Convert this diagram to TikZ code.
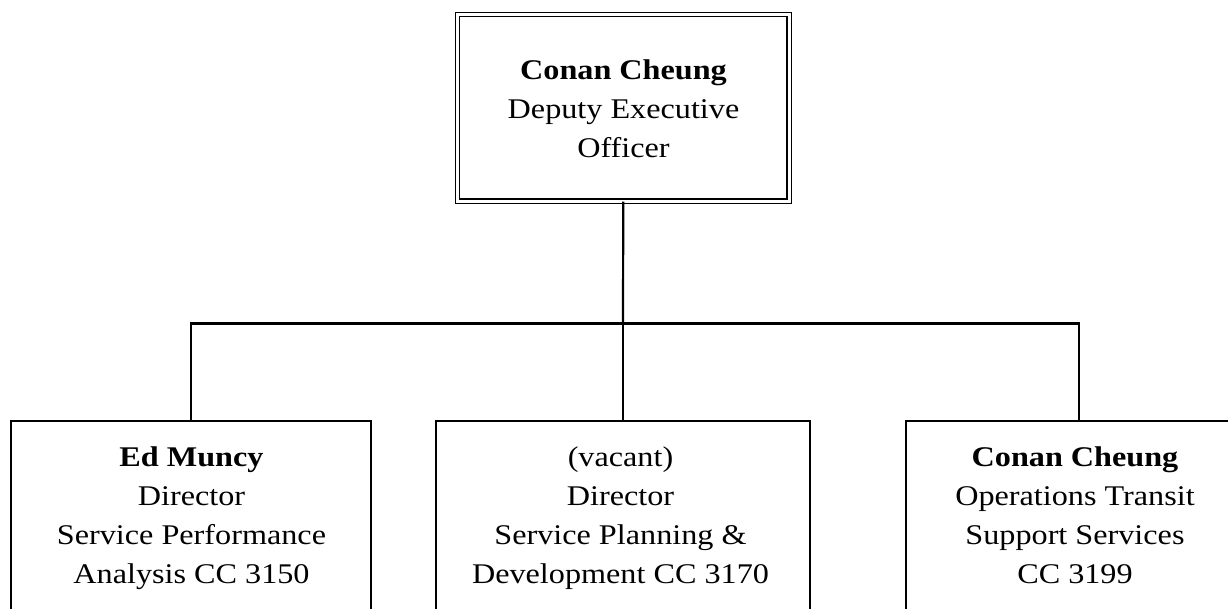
\documentclass[tikz,border=0pt]{standalone}
\usepackage{fontspec}
\setmainfont[FakeStretch=1.13]{Liberation Serif}
\begin{document}
\begin{tikzpicture}[x=1pt,y=-1pt,
  conn/.style={line width=2.2pt},
  topbox/.style={draw, double, line width=1.4pt, double distance=3pt, minimum width=331.5pt, minimum height=186.5pt, inner sep=0pt},
  subbox/.style={draw, line width=2.2pt, minimum height=260pt, inner sep=0pt, anchor=north},
  lbl/.style={align=center, anchor=base, inner sep=0pt, font=\fontsize{28.5}{39}\selectfont}]
\clip (0,0) rectangle (1228,608);
\fill[white] (0,0) rectangle (1228,608);
% top box
\node[topbox] (top) at (623.25,107.75) {};
\node[lbl] (toptext) at (623.5,157) {\textbf{Conan Cheung}\\Deputy Executive\\Officer};
% bottom boxes
\node[subbox, minimum width=360pt] (l) at (191,420) {};
\node[subbox, minimum width=374pt] (m) at (623,420) {};
\node[subbox, minimum width=346pt] (r) at (1079,420) {};
\node[lbl] (lt) at (191.5,583) {\textbf{Ed Muncy}\\Director\\Service Performance\\Analysis CC 3150};
\node[lbl] (mt) at (620.5,583) {(vacant)\\Director\\Service Planning \&\\Development CC 3170};
\node[lbl] (rt) at (1075,583) {\textbf{Conan Cheung}\\Operations Transit\\Support Services\\CC 3199};
% connectors
\coordinate (bus) at (623,323.5);
\draw[conn] (top.south) -- (bus);
\draw[conn] (bus) -| (l.north);
\draw[conn] (bus) -| (r.north);
\draw[conn] (bus) -- (m.north);
\end{tikzpicture}
\end{document}
